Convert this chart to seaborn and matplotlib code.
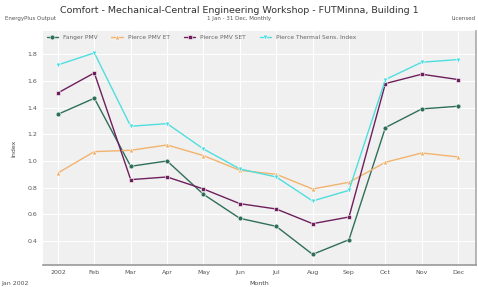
import numpy as np
import pandas as pd
import matplotlib
matplotlib.use("Agg")
import matplotlib.pyplot as plt
import seaborn as sns

months = ["2002", "Feb", "Mar", "Apr", "May", "Jun", "Jul", "Aug", "Sep", "Oct", "Nov", "Dec"]
fanger_pmv = [1.35, 1.47, 0.96, 1.00, 0.75, 0.57, 0.51, 0.30, 0.41, 1.25, 1.39, 1.41]
pierce_pmv_et = [0.91, 1.07, 1.08, 1.12, 1.04, 0.93, 0.90, 0.79, 0.84, 0.99, 1.06, 1.03]
pierce_pmv_set = [1.51, 1.66, 0.86, 0.88, 0.79, 0.68, 0.64, 0.53, 0.58, 1.58, 1.65, 1.61]
pierce_tsi = [1.72, 1.81, 1.26, 1.28, 1.09, 0.94, 0.88, 0.70, 0.78, 1.61, 1.74, 1.76]
series_names = ["Fanger PMV", "Pierce PMV ET", "Pierce PMV SET", "Pierce Thermal Sens. Index"]
yticks = [0.4, 0.6, 0.8, 1.0, 1.2, 1.4, 1.6, 1.8]

colors = ["#2f6f5a", "#f2b36e", "#6e1f5c", "#4fdede"]
markers = ["o", "^", "s", "v"]

rows = []
for name, vals in zip(series_names, [fanger_pmv, pierce_pmv_et, pierce_pmv_set, pierce_tsi]):
    for i, v in enumerate(vals):
        rows.append({"idx": i, "value": v, "series": name})
df = pd.DataFrame(rows)

sns.set_style("white")
plt.rcParams['font.family'] = ['DejaVu Sans']
fig = plt.figure(figsize=(4.78, 2.87), dpi=100)
ax = fig.add_axes([0.09, 0.077, 0.905, 0.815])
ax.set_facecolor("#f0f0f0")

sns.lineplot(data=df, x="idx", y="value", hue="series", style="series",
             palette=dict(zip(series_names, colors)),
             markers=dict(zip(series_names, markers)),
             dashes=False, markersize=3.5, linewidth=1.0,
             markeredgewidth=0.4, ax=ax, legend=True)

ax.set_xlim(-0.41, 11.48)
ax.set_ylim(0.221, 1.974)
ax.set_xticks(range(len(months)))
ax.set_xticklabels(months, fontsize=4.5, color="#555555")
ax.set_yticks(yticks)
ax.set_yticklabels([f"{t:.1f}" for t in yticks], fontsize=4.5, color="#555555")
ax.tick_params(axis="both", length=0, pad=4)
ax.grid(True, color="white", linewidth=0.8)
ax.set_axisbelow(True)
ax.set_xlabel("Month", fontsize=4.5, color="#444444", labelpad=4)
ax.set_ylabel("Index", fontsize=4.5, color="#444444", labelpad=8)
for s in ["top", "left"]:
    ax.spines[s].set_visible(False)
ax.spines["bottom"].set_color("#999999")
ax.spines["bottom"].set_linewidth(1.2)
ax.spines["right"].set_color("#aaaaaa")
ax.spines["right"].set_linewidth(1.2)

leg = ax.legend(loc="upper left", ncol=4, fontsize=4.2, frameon=False,
                bbox_to_anchor=(0.0, 1.0), handlelength=2.0, columnspacing=2.4,
                borderaxespad=0.2)
for t in leg.get_texts():
    t.set_color("#666666")

fig.text(0.5, 0.965, "Comfort - Mechanical-Central Engineering Workshop - FUTMinna, Building 1",
         ha="center", va="center", fontsize=6.8, color="#333333")
fig.text(0.5, 0.935, "1 Jan - 31 Dec, Monthly", ha="center", va="center", fontsize=4, color="#555555")
fig.text(0.01, 0.935, "EnergyPlus Output", ha="left", va="center", fontsize=4, color="#555555")
fig.text(0.995, 0.935, "Licensed", ha="right", va="center", fontsize=4, color="#555555")
fig.text(0.003, 0.013, "Jan 2002", ha="left", va="center", fontsize=4.5, color="#555555")

fig.savefig("out.png", dpi=100, facecolor="white")
